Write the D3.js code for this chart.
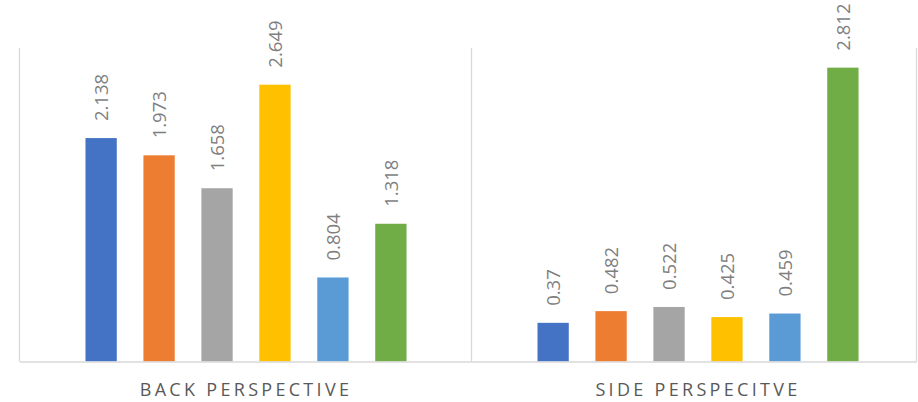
<!DOCTYPE html>
<html>
<head>
<meta charset="utf-8">
<script src="https://cdn.jsdelivr.net/npm/d3@7"></script>
<style>
  html, body { margin: 0; padding: 0; background: #fff; }
  svg { display: block; }
</style>
</head>
<body>
<svg id="chart" width="918" height="402"></svg>
<script>
// ---- data ----
const categories = ["BACK PERSPECTIVE", "SIDE PERSPECITVE"];
const seriesNames = ["S1", "S2", "S3", "S4", "S5", "S6"];
const backValues = [2.138, 1.973, 1.658, 2.649, 0.804, 1.318];
const sideValues = [0.37, 0.482, 0.522, 0.425, 0.459, 2.812];
const valueLabels = [
  ["2.138", "1.973", "1.658", "2.649", "0.804", "1.318"],
  ["0.37", "0.482", "0.522", "0.425", "0.459", "2.812"]
];
const colors = ["#4472C4", "#ED7D31", "#A5A5A5", "#FFC000", "#5B9BD5", "#70AD47"];
const yDomain = [0, 3];

const groups = [backValues, sideValues];

// ---- layout ----
const svg = d3.select("#chart");
const plot = { left: 20, right: 924, top: 48, bottom: 361.5 };
const visibleRight = 917;

const x0 = d3.scaleBand().domain(categories).range([plot.left, plot.right]).padding(0);
const x1 = d3.scaleBand().domain(seriesNames).range([0, x0.bandwidth()])
  .paddingInner(0.46).paddingOuter(1.13);
const y = d3.scaleLinear().domain(yDomain).range([plot.bottom, plot.top]);

const gridColor = "#d9d9d9";

// vertical separators (category boundaries)
const bounds = categories.map(c => x0(c)).concat([visibleRight]);
svg.append("g").selectAll("line").data(bounds).join("line")
  .attr("x1", d => Math.round(d) - 0.5).attr("x2", d => Math.round(d) - 0.5)
  .attr("y1", y(yDomain[1])).attr("y2", y(0))
  .attr("stroke", gridColor).attr("stroke-width", 1.3);

// bars
const gGroups = svg.append("g").selectAll("g").data(categories).join("g")
  .attr("transform", c => `translate(${x0(c)},0)`);

gGroups.each(function(c, gi) {
  const g = d3.select(this);
  const vals = groups[gi];
  g.selectAll("rect").data(vals).join("rect")
    .attr("x", (d, i) => x1(seriesNames[i]))
    .attr("width", x1.bandwidth())
    .attr("y", d => y(d))
    .attr("height", d => y(0) - y(d))
    .attr("fill", (d, i) => colors[i]);
  g.selectAll("text").data(vals).join("text")
    .attr("transform", (d, i) => `translate(${x1(seriesNames[i]) + x1.bandwidth() / 2},${y(d) - 17}) rotate(-90)`)
    .attr("text-anchor", "start")
    .attr("dy", "0.36em")
    .attr("font-family", "'Open Sans', sans-serif")
    .attr("font-size", 18.5)
    .attr("fill", "#7f7f7f")
    .text((d, i) => valueLabels[gi][i]);
});

// baseline axis
svg.append("line")
  .attr("x1", plot.left).attr("x2", visibleRight)
  .attr("y1", y(0) + 0.5).attr("y2", y(0) + 0.5)
  .attr("stroke", gridColor).attr("stroke-width", 1.5);

// category labels
svg.append("g").selectAll("text").data(categories).join("text")
  .attr("x", c => x0(c) + x0.bandwidth() / 2)
  .attr("y", 396)
  .attr("text-anchor", "middle")
  .attr("font-family", "'Open Sans', sans-serif")
  .attr("font-size", 18)
  .attr("letter-spacing", 3.3)
  .attr("fill", "#595959")
  .text(c => c);
</script>
</body>
</html>
